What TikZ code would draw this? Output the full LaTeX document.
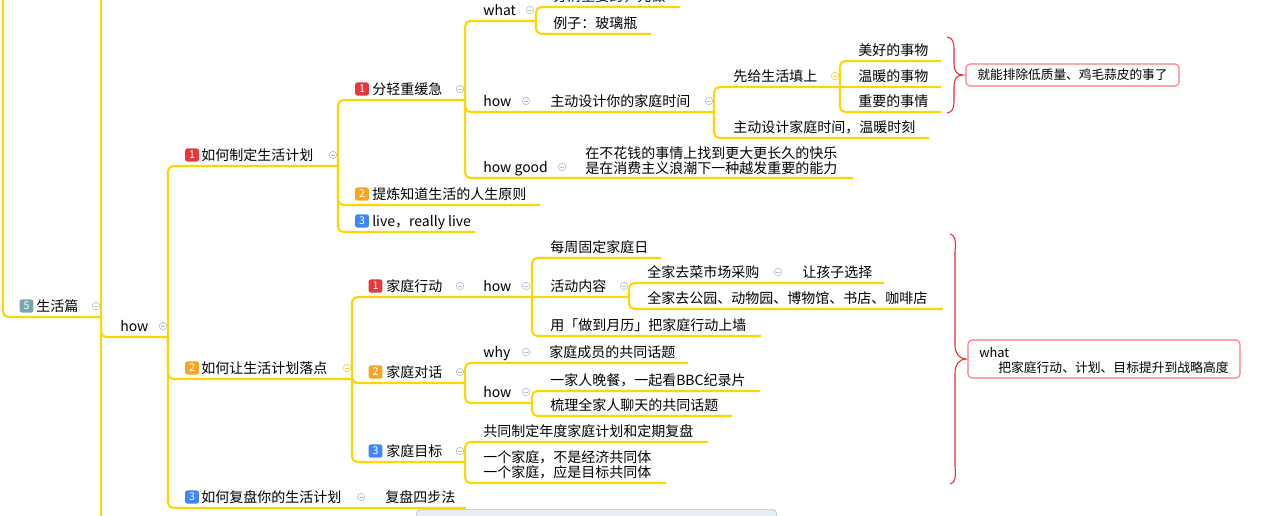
\documentclass[tikz,border=0pt]{standalone}
\usepackage{fontspec}
\setmainfont{Noto Sans CJK SC}
\definecolor{ylw}{RGB}{255,214,0}
\definecolor{bred}{RGB}{229,57,60}
\definecolor{borg}{RGB}{245,166,35}
\definecolor{bblu}{RGB}{66,133,244}
\definecolor{bteal}{RGB}{120,166,176}
\definecolor{iconc}{RGB}{178,190,216}
\definecolor{iconY}{RGB}{238,208,90}
\definecolor{bracec}{RGB}{232,40,55}
\definecolor{callc}{RGB}{255,118,128}
\definecolor{sbfill}{RGB}{230,239,243}
\definecolor{sbdraw}{RGB}{196,210,220}
\tikzset{
  ln/.style={draw=ylw,line width=1.6pt,rounded corners=4pt},
  txt/.style={anchor=base west,inner sep=0pt,font=\fontsize{10.5}{11.25}\selectfont},
  icn/.style={circle,draw=#1,minimum size=5.6pt,inner sep=0pt,line width=0.5pt,
    path picture={\draw[#1,line width=0.5pt] ([xshift=1.4pt]path picture bounding box.west) -- ([xshift=-1.4pt]path picture bounding box.east);}},
  icn/.default=iconc,
  badge/.style={rounded corners=1.5pt,minimum width=10.2pt,minimum height=9.8pt,inner sep=0pt,text=white,font=\fontsize{8}{8}\selectfont},
  call/.style={draw=callc,line width=0.8pt,rounded corners=3pt,fill=white,inner sep=0pt},
  ctxt/.style={anchor=west,inner sep=0pt,font=\fontsize{9.6}{10}\selectfont},
  brc/.style={draw=bracec,line width=0.8pt}
}
\newcommand\T[4]{\node[txt] (#1) at (#2,{#3-5.7}) {#4};}
\begin{document}
\begin{tikzpicture}[x=0.75pt,y=-0.75pt]
\useasboundingbox (0,0) rectangle (1262,515);
\clip (0,0) rectangle (1262,515);
% ---------- coordinates of underline ends ----------
\coordinate (R) at (3,-20);
\coordinate (L0) at (101,317);
\coordinate (V0a) at (101,-20);
\coordinate (V0b) at (101,540);
\coordinate (L1) at (168,337);
\coordinate (A) at (338,166);
\coordinate (B) at (352,379);
\coordinate (C) at (466,508);
\coordinate (A1) at (465,100);
\coordinate (A2) at (540,205);
\coordinate (A3) at (475,232);
\coordinate (A11) at (536,21);
\coordinate (A12) at (714,112);
\coordinate (A13) at (853,178);
\coordinate (A111) at (680,7);
\coordinate (A112) at (651,34);
\coordinate (A121) at (840,87);
\coordinate (A122) at (929,138);
\coordinate (A1211) at (941,61);
\coordinate (A1212) at (941,87);
\coordinate (A1213) at (941,112);
\coordinate (B1) at (532,297);
\coordinate (B2) at (465,383);
\coordinate (B3) at (465,462);
\coordinate (B11) at (661,258);
\coordinate (B12) at (629,297);
\coordinate (B13) at (761,336);
\coordinate (B121) at (884,283);
\coordinate (B122) at (943,309);
\coordinate (B21) at (688,363);
\coordinate (B22) at (532,403);
\coordinate (B221) at (760,391);
\coordinate (B222) at (732,416);
\coordinate (B31) at (708,442);
\coordinate (B32) at (666,483);
% ---------- connectors ----------
\draw[ln] (V0a) -- (V0b);
\foreach \p/\c in {R/L0,L0/L1,L1/A,L1/B,L1/C,A/A1,A/A2,A/A3,A1/A11,A1/A12,A1/A13,
  A11/A111,A11/A112,A12/A121,A12/A122,A121/A1211,A121/A1213,
  B/B1,B/B2,B/B3,B1/B11,B1/B13,B12/B121,B12/B122,B2/B21,B2/B22,B22/B221,B22/B222,B3/B31,B3/B32}
  \draw[ln] (\p) |- (\c);
\draw[ln] (A121) -- (A1212);
\draw[ln] (B1) -- (B12);
% ---------- texts ----------
\T{t0}{36}{317}{生活篇}
\T{t1}{120}{337}{how}
\T{tA}{201}{166}{如何制定生活计划}
\T{tB}{201}{379}{如何让生活计划落点}
\T{tC}{201}{508}{如何复盘你的生活计划}
\T{tC1}{385}{508}{复盘四步法}
\T{tA1}{372}{100}{分轻重缓急}
\T{tA2}{372}{205}{提炼知道生活的人生原则}
\T{tA3}{372}{232}{live，really live}
\T{tA11}{483}{21}{what}
\T{tA111}{553}{7}{分清重要的，先做}
\T{tA112}{553}{34}{例子：玻璃瓶}
\T{tA12}{483}{112}{how}
\T{tA12b}{550}{112}{主动设计你的家庭时间}
\T{tA121}{733}{87}{先给生活填上}
\T{tA1211}{858}{61}{美好的事物}
\T{tA1212}{858}{87}{温暖的事物}
\T{tA1213}{858}{112}{重要的事情}
\T{tA122}{733}{138}{主动设计家庭时间，温暖时刻}
\T{tA13}{483}{178}{how good}
\T{tA13a}{585}{164}{在不花钱的事情上找到更大更长久的快乐}
\T{tA13b}{585}{179}{是在消费主义浪潮下一种越发重要的能力}
\T{tB1}{386}{297}{家庭行动}
\T{tB1b}{483}{297}{how}
\T{tB11}{550}{258}{每周固定家庭日}
\T{tB12}{550}{297}{活动内容}
\T{tB121}{647}{283}{全家去菜市场采购}
\T{tB121b}{802}{283}{让孩子选择}
\T{tB122}{647}{309}{全家去公园、动物园、博物馆、书店、咖啡店}
\T{tB13}{550}{336}{用「做到月历」把家庭行动上墙}
\T{tB2}{386}{383}{家庭对话}
\T{tB21}{483}{363}{why}
\T{tB21b}{549}{363}{家庭成员的共同话题}
\T{tB22}{483}{403}{how}
\T{tB221}{550}{391}{一家人晚餐，一起看BBC纪录片}
\T{tB222}{550}{416}{梳理全家人聊天的共同话题}
\T{tB3}{386}{462}{家庭目标}
\T{tB31}{483}{442}{共同制定年度家庭计划和定期复盘}
\T{tB32a}{483}{468}{一个家庭，不是经济共同体}
\T{tB32b}{483}{483}{一个家庭，应是目标共同体}
% ---------- badges ----------
\node[badge,fill=bteal] (b0) at (26.5,306) {5};
\node[badge,fill=bred] (bA) at (192,155) {1};
\node[badge,fill=borg] (bB) at (192,368) {2};
\node[badge,fill=bblu] (bC) at (192,497) {3};
\node[badge,fill=bred] (bA1) at (362,89) {1};
\node[badge,fill=borg] (bA2) at (362,194) {2};
\node[badge,fill=bblu] (bA3) at (362,221) {3};
\node[badge,fill=bred] (bB1) at (375.5,286) {1};
\node[badge,fill=borg] (bB2) at (375.5,372) {2};
\node[badge,fill=bblu] (bB3) at (375.5,451) {3};
% ---------- collapse icons ----------
\node[icn] (i0) at (96,306) {};
\node[icn] (i1) at (163,326) {};
\node[icn] (iA) at (333,155) {};
\node[icn=iconY] (iB) at (347,368) {};
\node[icn] (iC) at (361,497) {};
\node[icn] (iA1) at (460,89) {};
\node[icn] (iA11) at (530,10) {};
\node[icn] (iA12) at (526,101) {};
\node[icn] (iA12b) at (709,101) {};
\node[icn=iconY] (iA121) at (835,76) {};
\node[icn] (iA13) at (562,167) {};
\node[icn] (iB1) at (460,286) {};
\node[icn] (iB1b) at (526,286) {};
\node[icn] (iB12) at (624,286) {};
\node[icn] (iB121) at (778,272) {};
\node[icn] (iB2) at (460,372) {};
\node[icn] (iB21) at (526,352) {};
\node[icn] (iB22) at (526,392) {};
\node[icn] (iB3) at (460,451) {};
% ---------- braces and callouts ----------
\node[call,minimum width=159.75pt,minimum height=16.5pt,font=\fontsize{9.5}{10}\selectfont] (K1) at (1072.5,75) {就能排除低质量、鸡毛蒜皮的事了};
\coordinate (k1t) at (963,75);
\draw[brc] (947,37) .. controls (953,38) and (954,42) .. (954,50) -- (954,64)
  .. controls (954,71) and (957,75) .. (k1t)
  .. controls (957,75) and (954,79) .. (954,86) -- (954,100)
  .. controls (954,108) and (953,112) .. (947,113);
\node[call,minimum width=204pt,minimum height=28.5pt] (K2) at (1104,359) {};
\node[ctxt] (K2a) at (979,352) {what};
\node[ctxt] (K2b) at (998,368) {把家庭行动、计划、目标提升到战略高度};
\coordinate (k2t) at (966,359);
\draw[brc] (950,234) .. controls (955,235) and (956,240) .. (955,252) -- (955,345)
  .. controls (955,353) and (959,359) .. (k2t)
  .. controls (959,359) and (955,365) .. (955,373) -- (955,466)
  .. controls (956,478) and (955,483) .. (950,484);
% ---------- bottom panel ----------
\node[draw=sbdraw,fill=sbfill,rounded corners=3pt,line width=0.8pt,anchor=north west,minimum width=270pt,minimum height=22pt,inner sep=0pt] (sb) at (416,509) {};
\end{tikzpicture}
\end{document}
